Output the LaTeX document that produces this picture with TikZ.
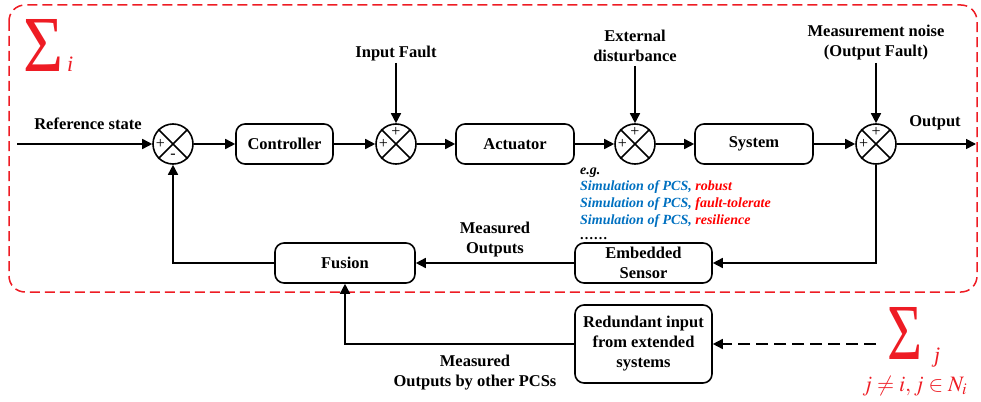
\documentclass[tikz,border=0pt]{standalone}
\usepackage{mathptmx}
\usepackage{fontspec}
\setmainfont{Liberation Serif}
\usetikzlibrary{arrows.meta,calc}
\definecolor{frame}{RGB}{238,28,36}
\definecolor{pcsblue}{RGB}{0,112,192}
\definecolor{pcsred}{RGB}{255,0,0}

\tikzset{
  blk/.style={draw, line width=1.6pt, rounded corners=9pt, minimum height=40pt,
    inner sep=2pt, align=center, font=\fontsize{16.5}{20}\selectfont\bfseries},
  summer/.style={draw, circle, line width=1.6pt, minimum size=40pt, inner sep=0pt},
  lbl/.style={font=\fontsize{16.5}{20}\selectfont\bfseries, align=center, inner sep=0pt},
  sig/.style={line width=1.6pt, -{Triangle[length=10pt,width=10pt]}},
  sgn/.style={font=\fontsize{16}{16}\selectfont, inner sep=0pt},
  note/.style={font=\fontsize{14}{17}\selectfont\bfseries\itshape, inner sep=0pt, anchor=base west},
  bigsum/.style={inner sep=0pt, text=frame},
}

\begin{document}
\begin{tikzpicture}[x=1pt,y=-1pt]
\useasboundingbox (0,0) rectangle (981,401);

% subsystem frame
\draw[frame, line width=1.5pt, dash pattern=on 10pt off 5pt, rounded corners=16pt]
  (9,5) rectangle (977,292);

% Sigma_i
\node[bigsum, anchor=south west] (sigi) at (23,72) {\resizebox{40pt}{52pt}{Σ}};
\node[bigsum, anchor=base west, font=\fontsize{22}{26}\selectfont\itshape] (subi) at (67,72) {i};

% summing junctions
\node[summer] (s1) at (173,144) {};
\node[summer] (s2) at (396,144) {};
\node[summer] (s3) at (635,144) {};
\node[summer] (s4) at (876,144) {};
\foreach \s in {s1,s2,s3,s4}
  \draw[line width=1.6pt] (\s.45) -- (\s.225) (\s.135) -- (\s.315);

\node[sgn] (s1a) at ($(s1)+(-12.5,0)$) {+};
\node[sgn] (s1b) at ($(s1)+(0,12)$) {-};
\node[sgn] (s2a) at ($(s2)+(-12.5,0)$) {+};
\node[sgn] (s2b) at ($(s2)+(0,-12.5)$) {+};
\node[sgn] (s3a) at ($(s3)+(-12.5,0)$) {+};
\node[sgn] (s3b) at ($(s3)+(0,-12.5)$) {+};
\node[sgn] (s4a) at ($(s4)+(-12.5,0)$) {+};
\node[sgn] (s4b) at ($(s4)+(0,-12.5)$) {+};

% blocks
\node[blk, minimum width=97pt]  (ctrl)   at (284.5,144) {Controller};
\node[blk, minimum width=118pt] (act)    at (515,144)   {Actuator};
\node[blk, minimum width=118pt] (sys)    at (754,144)   {System};
\node[blk, minimum width=137pt] (sensor) at (643.5,263) {Embedded\\Sensor};
\node[blk, minimum width=140pt] (fusion) at (345,263)   {Fusion};
\node[blk, minimum width=137pt, minimum height=78pt] (redin) at (643.5,344)
  {Redundant input\\from extended\\systems};

% free ends
\coordinate (refin) at (17,144);
\coordinate (fin)   at (396,63);
\coordinate (din)   at (635,66);
\coordinate (nin)   at (876,63);
\coordinate (yout)  at (976,144);
\coordinate (jout)  at (876,344);

% forward path
\draw[sig] (refin) -- (s1.west);
\draw[sig] (s1.east) -- (ctrl.west);
\draw[sig] (ctrl.east) -- (s2.west);
\draw[sig] (s2.east) -- (act.west);
\draw[sig] (act.east) -- (s3.west);
\draw[sig] (s3.east) -- (sys.west);
\draw[sig] (sys.east) -- (s4.west);
\draw[sig] (s4.east) -- (yout);
\draw[sig] (fin) -- (s2.north);
\draw[sig] (din) -- (s3.north);
\draw[sig] (nin) -- (s4.north);

% feedback path
\draw[sig] (s4.south) |- (sensor.east);
\draw[sig] (sensor.west) -- (fusion.east);
\draw[sig] (fusion.west) -| (s1.south);
\draw[sig] (redin.west) -| (fusion.south);
\draw[sig, dash pattern=on 12pt off 6pt] (jout) -- (redin.east);

% signal labels
\node[lbl] (lref)  at (88,124)  {Reference state};
\node[lbl] (lfault) at (396,54) {Input Fault};
\node[lbl] (ldist) at (635,46)  {External\\disturbance};
\node[lbl] (lnoise) at (876,43) {Measurement noise\\(Output Fault)};
\node[lbl] (lout)  at (935,123) {Output};
\node[lbl] (lmeas) at (495,240) {Measured\\Outputs};
\node[lbl] (lother) at (475,373) {Measured\\Outputs by other PCSs};

% examples
\node[note] (eg) at (580,174) {e.g.};
\node[note] (ex1) at (580,190) {\textcolor{pcsblue}{Simulation of PCS,} \textcolor{pcsred}{robust}};
\node[note] (ex2) at (580,207) {\textcolor{pcsblue}{Simulation of PCS,} \textcolor{pcsred}{fault-tolerate}};
\node[note] (ex3) at (580,224) {\textcolor{pcsblue}{Simulation of PCS,} \textcolor{pcsred}{resilience}};
\node[note] (exd) at (580,239) {……};

% Sigma_j
\node[bigsum, anchor=south west] (sigj) at (887,360) {\resizebox{35pt}{52pt}{Σ}};
\node[bigsum, anchor=base west, font=\fontsize{22}{26}\selectfont\itshape] (subj) at (934,362) {j};
\node[bigsum, anchor=base west, font=\fontsize{22}{26}\selectfont] (cond) at (862,391)
  {$j\neq i, j\in N_i$};
\end{tikzpicture}
\end{document}
